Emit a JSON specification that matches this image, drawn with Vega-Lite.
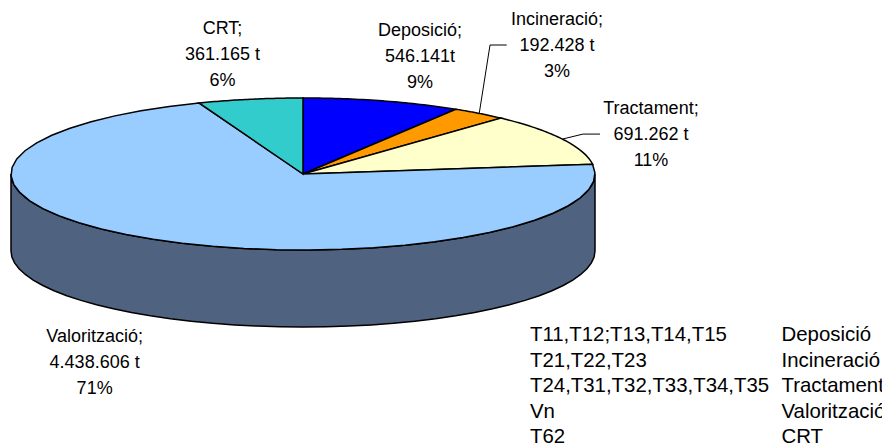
{
"$schema":"https://vega.github.io/schema/vega-lite/v6.json",
"width":882,"height":445,"autosize":"none","padding":0,
"background":"white",
"config":{"view":{"stroke":null},"text":{"font":"Liberation Sans"}},
"data":{"values":[
{"ord":0,"name":"Deposició","code":"T11,T12;T13,T14,T15","value":546141,"label":"Deposició;\n546.141t\n9%"},
{"ord":1,"name":"Incineració","code":"T21,T22,T23","value":192428,"label":"Incineració;\n192.428 t\n3%"},
{"ord":2,"name":"Tractament","code":"T24,T31,T32,T33,T34,T35","value":691262,"label":"Tractament;\n691.262 t\n11%"},
{"ord":3,"name":"Valorització","code":"Vn","value":4438606,"label":"Valorització;\n4.438.606 t\n71%"},
{"ord":4,"name":"CRT","code":"T62","value":361165,"label":"CRT;\n361.165 t\n6%"}
]},
"transform":[
{"joinaggregate":[{"op":"sum","field":"value","as":"total"}]},
{"window":[{"op":"sum","field":"value","as":"cum"}],"sort":[{"field":"ord","order":"ascending"}]},
{"calculate":"2*PI*(datum.cum-datum.value)/datum.total","as":"a0"},
{"calculate":"2*PI*datum.cum/datum.total","as":"a1"},
{"calculate":"(datum.a0+datum.a1)/2","as":"am"},
{"calculate":"292*sin(datum.am)","as":"xm"},
{"calculate":"76*cos(datum.am)","as":"ym"}
],
"layer":[
{"transform":[
{"filter":"datum.name==='Valorització'"},
{"calculate":"[0,1,2,3,4,5,6,7,8,9,10,11,12,13,14,15,16,17,18,19,20,21,22,23,24,25,26,27,28,29,30,31,32,33,34,35,36,37,38,39,40,41,42,43,44,45,46,47,48,49,50,51,52,53,54,55,56,57,58,59,60,61,62,63,64,65,66,67,68,69,70,71,72,73,74,75,76,77,78,79,80,81]","as":"i"},
{"flatten":["i"]},
{"calculate":"datum.i<=40?datum.i/40:(81-datum.i)/40","as":"k"},
{"calculate":"max(datum.a0,PI/2)+datum.k*(min(datum.a1,3*PI/2)-max(datum.a0,PI/2))","as":"a"},
{"calculate":"292*sin(datum.a)","as":"px"},
{"calculate":"76*cos(datum.a)-(datum.i<=40?0:77)","as":"py"}],
"mark":{"type":"line","interpolate":"linear-closed","fill":"#4F6380","stroke":"black","strokeWidth":1.5},
"encoding":{
"x":{"field":"px","type":"quantitative","axis":null,"scale":{"domain":[-303,579],"nice":false,"zero":false}},
"y":{"field":"py","type":"quantitative","axis":null,"scale":{"domain":[-271,174],"nice":false,"zero":false}},
"order":{"field":"i","type":"quantitative"}}},
{"transform":[
{"calculate":"[-1,0,0.025,0.05,0.075,0.1,0.125,0.15,0.175,0.2,0.225,0.25,0.275,0.3,0.325,0.35,0.375,0.4,0.425,0.45,0.475,0.5,0.525,0.55,0.575,0.6,0.625,0.65,0.675,0.7,0.725,0.75,0.775,0.8,0.825,0.85,0.875,0.9,0.925,0.95,0.975,1]","as":"k"},
{"flatten":["k"]},
{"calculate":"datum.a0+datum.k*(datum.a1-datum.a0)","as":"a"},
{"calculate":"datum.k<0?0:292*sin(datum.a)","as":"px"},
{"calculate":"datum.k<0?0:76*cos(datum.a)","as":"py"}],
"mark":{"type":"line","interpolate":"linear-closed","stroke":"black","strokeWidth":1.5},
"encoding":{
"x":{"field":"px","type":"quantitative","axis":null},
"y":{"field":"py","type":"quantitative","axis":null},
"fill":{"field":"name","type":"nominal","legend":null,"scale":{"domain":["Deposició","Incineració","Tractament","Valorització","CRT"],"range":["#0000FF","#FF9900","#FFFFCC","#99CCFF","#33CCCC"]}},
"order":{"field":"k","type":"quantitative"}}},
{"transform":[
{"filter":"datum.name==='Incineració'||datum.name==='Tractament'"},
{"calculate":"datum.name==='Incineració'?[0,10.8,27.5]:[0,20.6,37.6]","as":"lx"},
{"calculate":"datum.name==='Incineració'?[0,68.4,68.4]:[0,5,5]","as":"ly"},
{"flatten":["lx","ly"]},
{"calculate":"datum.xm+datum.lx","as":"px"},
{"calculate":"datum.ym+datum.ly","as":"py"}],
"mark":{"type":"line","stroke":"black","strokeWidth":1},
"encoding":{
"x":{"field":"px","type":"quantitative","axis":null},
"y":{"field":"py","type":"quantitative","axis":null},
"detail":{"field":"name"}}},
{"transform":[{"filter":"datum.name==='Deposició'"}],
"mark":{"type":"text","lineBreak":"\n","fontSize":18,"lineHeight":26,"align":"center","baseline":"middle","dx":37.6,"dy":-69.9},
"encoding":{"x":{"field":"xm","type":"quantitative","axis":null},"y":{"field":"ym","type":"quantitative","axis":null},"text":{"field":"label"}}},
{"transform":[{"filter":"datum.name==='Incineració'"}],
"mark":{"type":"text","lineBreak":"\n","fontSize":18,"lineHeight":26,"align":"center","baseline":"middle","dx":77.8,"dy":-93.9},
"encoding":{"x":{"field":"xm","type":"quantitative","axis":null},"y":{"field":"ym","type":"quantitative","axis":null},"text":{"field":"label"}}},
{"transform":[{"filter":"datum.name==='Tractament'"}],
"mark":{"type":"text","lineBreak":"\n","fontSize":18,"lineHeight":26,"align":"center","baseline":"middle","dx":88.6,"dy":-30},
"encoding":{"x":{"field":"xm","type":"quantitative","axis":null},"y":{"field":"ym","type":"quantitative","axis":null},"text":{"field":"label"}}},
{"transform":[{"filter":"datum.name==='Valorització'"}],
"mark":{"type":"text","lineBreak":"\n","fontSize":18,"lineHeight":26,"align":"center","baseline":"middle","dx":-58.5,"dy":98},
"encoding":{"x":{"field":"xm","type":"quantitative","axis":null},"y":{"field":"ym","type":"quantitative","axis":null},"text":{"field":"label"}}},
{"transform":[{"filter":"datum.name==='CRT'"}],
"mark":{"type":"text","lineBreak":"\n","fontSize":18,"lineHeight":26,"align":"center","baseline":"middle","dx":-27.6,"dy":-70.3},
"encoding":{"x":{"field":"xm","type":"quantitative","axis":null},"y":{"field":"ym","type":"quantitative","axis":null},"text":{"field":"label"}}},
{"transform":[{"calculate":"174-(335+25.5*datum.ord)","as":"ty"}],
"mark":{"type":"text","fontSize":20.4,"align":"left","baseline":"middle"},
"encoding":{"x":{"datum":227,"type":"quantitative","axis":null},"y":{"field":"ty","type":"quantitative","axis":null},"text":{"field":"code"}}},
{"transform":[{"calculate":"174-(335+25.5*datum.ord)","as":"ty"}],
"mark":{"type":"text","fontSize":20.4,"align":"left","baseline":"middle"},
"encoding":{"x":{"datum":478.5,"type":"quantitative","axis":null},"y":{"field":"ty","type":"quantitative","axis":null},"text":{"field":"name"}}}
]
}
